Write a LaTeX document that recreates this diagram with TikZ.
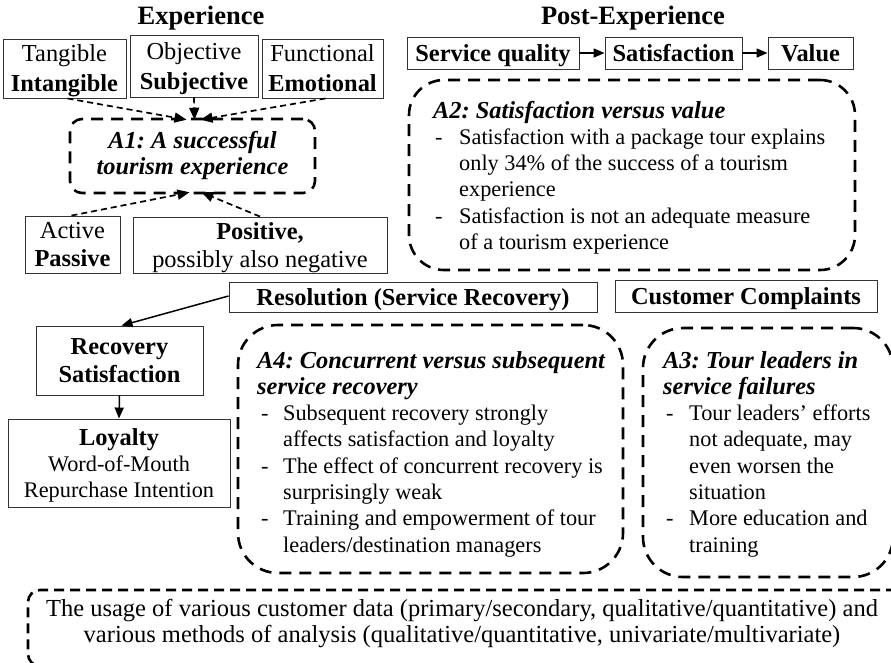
\documentclass[tikz,border=0pt]{standalone}
\usepackage{fontspec}
\setmainfont{Liberation Serif}
\usetikzlibrary{arrows.meta}
\frenchspacing
\newcommand\fsA{\fontsize{24.4}{28}\selectfont}
\newcommand\fsB{\fontsize{22.3}{26.3}\selectfont}
\newcommand\fsT{\fontsize{26.5}{30}\selectfont}
\newcommand\ttA{\fontsize{24.4}{26}\selectfont\bfseries\itshape}
\begin{document}
\begin{tikzpicture}[x=1pt,y=-1pt,
  box/.style={draw=black!80, line width=0.9pt, inner sep=0pt, align=center, font=\fsA, text depth=0pt},
  dbox/.style={draw, line width=2.6pt, dash pattern=on 12pt off 8pt, inner sep=0pt},
  darr/.style={line width=1.7pt, dash pattern=on 6pt off 4pt, -{Triangle[length=12pt,width=10pt]}},
  sarr/.style={line width=1.5pt, -{Triangle[length=11pt,width=9pt]}},
  ttl/.style={font=\fsT\bfseries, inner sep=0pt},
  txt/.style={inner sep=0pt, anchor=base west, font=\fsB},
]
\useasboundingbox (0,0) rectangle (891,662);
\clip (0,0) rectangle (891,662);

% headings
\node[ttl] (hexp) at (201,18) {Experience};
\node[ttl] (hpost) at (633,18) {Post-Experience};

% experience dimensions
\node[box, minimum width=123, minimum height=59] (tang) at (64.5,68.5) {Tangible\\[2pt]\textbf{Intangible}};
\node[box, minimum width=128, minimum height=62] (obj) at (194,66) {Objective\\[2pt]\textbf{Subjective}};
\node[box, minimum width=121, minimum height=59] (func) at (322.5,68.5) {Functional\\[2pt]\textbf{Emotional}};
\node[dbox, rounded corners=12pt, minimum width=245, minimum height=74, align=center, font=\ttA] (a1) at (192.5,156) {A1: A successful\\tourism experience};
\node[box, minimum width=95, minimum height=57] (act) at (72.5,244.5) {Active\\\textbf{Passive}};
\node[box, minimum width=254, minimum height=56] (pos) at (260,245) {\textbf{Positive,}\\possibly also negative};

\draw[darr] (tang.south) ++(3,0) -- ([xshift=-6pt,yshift=-2pt]a1.north);
\draw[darr] (obj.south) -- ([xshift=2pt,yshift=-2pt]a1.north);
\draw[darr] ([xshift=3pt]func.south) -- ([xshift=8pt,yshift=-2pt]a1.north);
\draw[darr] ([xshift=-1pt]act.north) -- ([xshift=-3pt,yshift=2pt]a1.south);
\draw[darr] (pos.north) -- ([xshift=9pt,yshift=2pt]a1.south);

% post-experience chain
\node[box, minimum width=172, minimum height=32] (sq) at (493,53) {\textbf{Service quality}};
\node[box, minimum width=137, minimum height=32] (sat) at (673.5,53) {\textbf{Satisfaction}};
\node[box, minimum width=85, minimum height=32] (val) at (810.5,53) {\textbf{Value}};
\draw[sarr] (sq.east) -- (sat.west);
\draw[sarr] (sat.east) -- (val.west);

\node[dbox, rounded corners=35pt, minimum width=446, minimum height=190] (a2) at (632,175) {};
\node[txt] (a2t) at (433,118) {\begin{tabular}[t]{@{}p{26pt}@{}l@{}}
\multicolumn{2}{@{}l@{}}{\ttA A2: Satisfaction versus value}\\
\hspace*{2pt}- & Satisfaction with a package tour explains\\
 & only 34\% of the success of a tourism\\
 & experience\\
\hspace*{2pt}- & Satisfaction is not an adequate measure\\
 & of a tourism experience
\end{tabular}};

% service recovery
\node[box, minimum width=368, minimum height=30] (res) at (413,297) {\textbf{Resolution (Service Recovery)}};
\node[box, minimum width=262, minimum height=32] (cc) at (746,296) {\textbf{Customer Complaints}};
\node[box, minimum width=167, minimum height=69] (rec) at (119.5,360.5) {\textbf{Recovery}\\\textbf{Satisfaction}};
\node[box, minimum width=222, minimum height=88, font=\fsB] (loy) at (119,463) {{\fsA\bfseries Loyalty}\\Word-of-Mouth\\Repurchase Intention};
\draw[sarr] ([yshift=1pt]res.west) -- ([xshift=2pt]rec.north);
\draw[sarr] (rec.south) -- (loy.north);

\node[dbox, rounded corners=40pt, minimum width=385, minimum height=248] (a4) at (430.5,449) {};
\node[txt] (a4t) at (257,368) {\begin{tabular}[t]{@{}p{26pt}@{}l@{}}
\multicolumn{2}{@{}l@{}}{\ttA A4: Concurrent versus subsequent}\\
\multicolumn{2}{@{}l@{}}{\ttA service recovery}\\
\hspace*{4pt}- & Subsequent recovery strongly\\
 & affects satisfaction and loyalty\\
\hspace*{4pt}- & The effect of concurrent recovery is\\
 & surprisingly weak\\
\hspace*{4pt}- & Training and empowerment of tour\\
 & leaders/destination managers
\end{tabular}};

\node[dbox, rounded corners=40pt, minimum width=250, minimum height=249] (a3) at (768,452.5) {};
\node[txt] (a3t) at (663,368) {\begin{tabular}[t]{@{}p{26pt}@{}l@{}}
\multicolumn{2}{@{}l@{}}{\ttA A3: Tour leaders in}\\
\multicolumn{2}{@{}l@{}}{\ttA service failures}\\
\hspace*{3pt}- & Tour leaders’ efforts\\
 & not adequate, may\\
 & even worsen the\\
 & situation\\
\hspace*{3pt}- & More education and\\
 & training
\end{tabular}};

% data and methods
\node[dbox, dash pattern=on 10pt off 6pt, rounded corners=12pt, minimum width=880, minimum height=76] (bot) at (468,628) {};
\node[inner sep=0pt, align=center, font=\fontsize{24.5}{26}\selectfont] (bott) at (462,624) {The usage of various customer data (primary/secondary, qualitative/quantitative) and\\various methods of analysis (qualitative/quantitative, univariate/multivariate)};
\end{tikzpicture}
\end{document}
